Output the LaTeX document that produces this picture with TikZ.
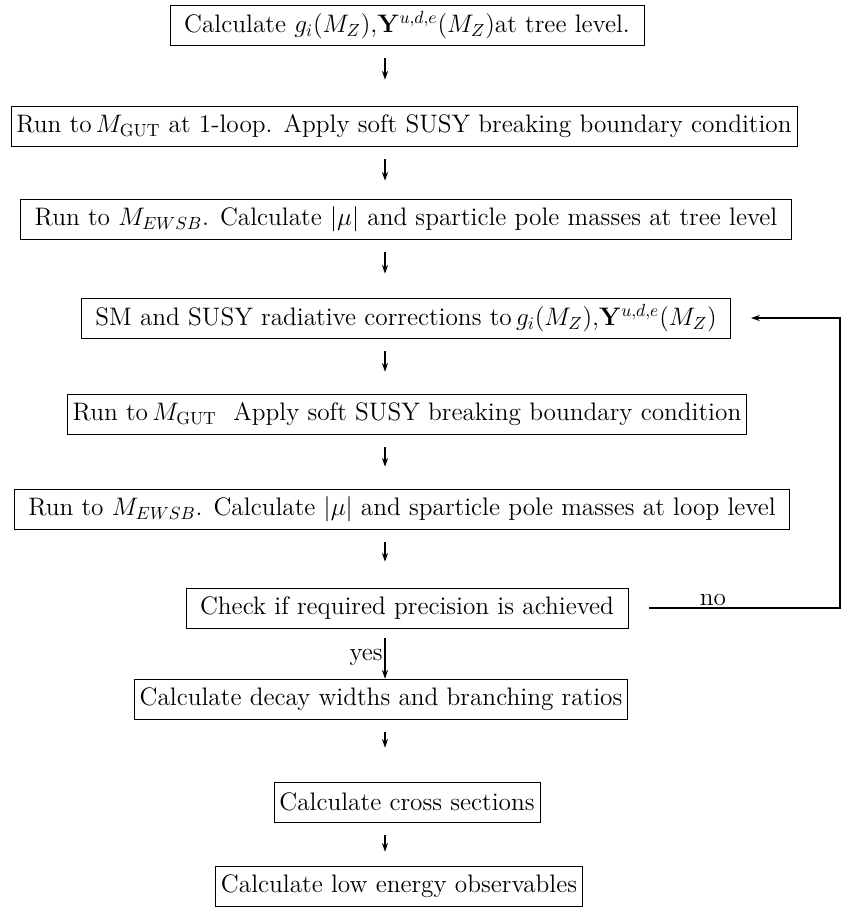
\documentclass[tikz,border=0pt]{standalone}
\usepackage{amsmath}
\usepackage{tikz}
\usetikzlibrary{positioning, calc, arrows.meta}
\tikzset{
	stepbox/.style={draw, font=\Large, inner sep=3pt, minimum height=0.8cm}
}
\tikzset{
	widebox/.style={stepbox, inner xsep=8pt}
}
\tikzset{
	flow/.style={-{Stealth[length=5pt,width=3.5pt]}, semithick}
}
\begin{document}
\begin{tikzpicture}[x=0.02cm, y=-0.02cm]
      \useasboundingbox (0,0) rectangle (852,912);
      \coordinate (ax) at (385,0);
      \coordinate (rt) at (840,0);
      \node[widebox] (b1) at (407,25) {Calculate $g_i(M_Z)$,$\mathbf{Y}^{u,d,e}(M_Z)$at tree level.};
      \node[stepbox] (b2) at (404,126) {Run to\,$M_{\mathrm{GUT}}$ at 1-loop. Apply soft SUSY breaking boundary condition};
      \node[widebox] (b3) at (406,219) {Run to $M_{EWSB}$. Calculate $|\mu|$ and sparticle pole masses at tree level};
      \node[widebox] (b4) at (406,318) {SM and SUSY radiative corrections to\,$g_i(M_Z)$,$\mathbf{Y}^{u,d,e}(M_Z)$};
      \node[stepbox] (b5) at (407,414) {Run to\,$M_{\mathrm{GUT}}$\ \ Apply soft SUSY breaking boundary condition};
      \node[widebox] (b6) at (402,509) {Run to $M_{EWSB}$. Calculate $|\mu|$ and sparticle pole masses at loop level};
      \node[widebox] (b7) at (407,608) {Check if required precision is achieved};
      \node[stepbox] (b8) at (381,699) {Calculate decay widths and branching ratios};
      \node[stepbox] (b9) at (407,802) {Calculate cross sections};
      \node[stepbox] (b10) at (399,886) {Calculate low energy observables};
      \foreach \a/\b/\s in {b1/b2/26, b2/b3/18, b3/b4/24, b4/b5/22, b5/b6/22, b6/b7/26, b8/b9/34, b9/b10/14}
        \draw[flow, shorten <=0.26cm, shorten >=\s*0.02cm] (\a.south -| ax) -- (\b.north -| ax);
      \draw[flow, shorten <=0.2cm] (b7.south -| ax) -- node[left, pos=0.57, font=\Large, inner sep=1pt] {yes} (b8.north -| ax);
      \draw[flow, shorten <=0.42cm, shorten >=0.4cm] (b7.east) -- node[above, pos=0.4, font=\Large, inner sep=1pt] {no} (b7.east -| rt) |- (b4.east);
    \end{tikzpicture}
\end{document}
